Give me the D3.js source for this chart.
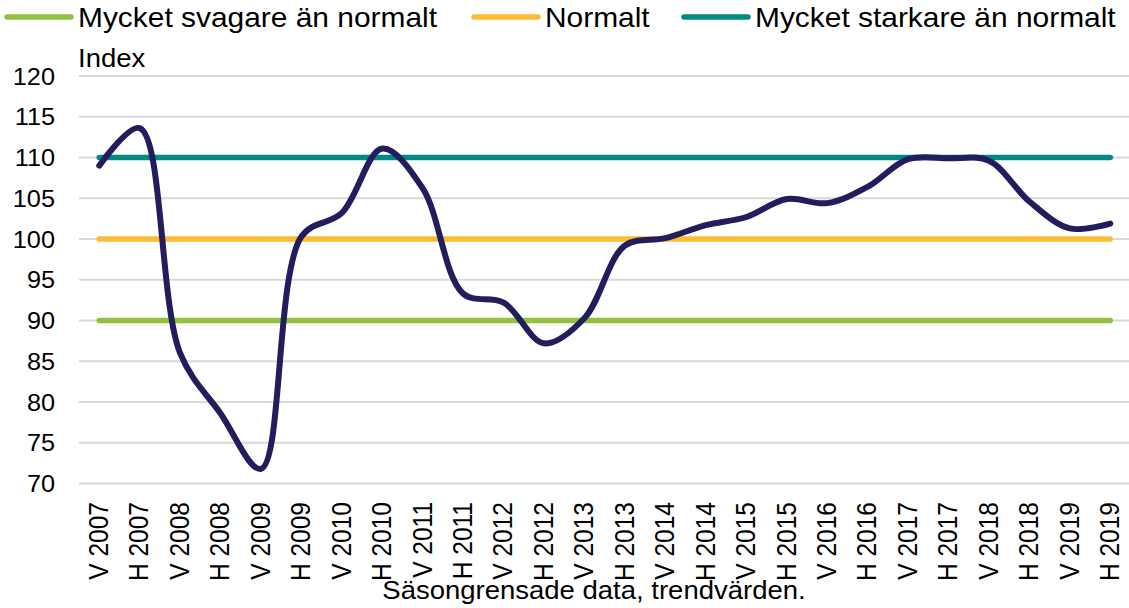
<!DOCTYPE html>
<html>
<head>
<meta charset="utf-8">
<title>Index</title>
<script src="https://cdn.jsdelivr.net/npm/d3@7/dist/d3.min.js"></script>
<style>
	body { margin: 0; background: #fff; }
	text { font-family: "Liberation Sans", Arial, sans-serif; fill: #000; }
</style>
</head>
<body>
<svg id="chart" width="1129" height="608"></svg>
<script>
// halvårsdata, V = vår, H = höst
var periods = ['V 2007', 'H 2007', 'V 2008', 'H 2008', 'V 2009', 'H 2009', 'V 2010', 'H 2010',
	'V 2011', 'H 2011', 'V 2012', 'H 2012', 'V 2013', 'H 2013', 'V 2014', 'H 2014',
	'V 2015', 'H 2015', 'V 2016', 'H 2016', 'V 2017', 'H 2017', 'V 2018', 'H 2018',
	'V 2019', 'H 2019'];
var indexValues = [109.0, 113.6, 86.0, 78.6, 71.8, 100.3, 103.2, 111.1,
	106.2, 93.3, 92.2, 87.2, 90.3, 99.2, 100.1, 101.7,
	102.7, 104.9, 104.4, 106.4, 109.8, 109.9, 109.6, 104.6,
	101.3, 101.9];
var refNames = ['Mycket svagare än normalt', 'Normalt', 'Mycket starkare än normalt'];
var refValues = [90, 100, 110];
var refColors = ['#92c13e', '#fbbb35', '#008a84'];
var yTicks = [70, 75, 80, 85, 90, 95, 100, 105, 110, 115, 120];

var svg = d3.select('#chart');
var sx = 1.1;  // texten i förlagan är lite utdragen på bredden

var x = d3.scaleBand().domain(periods).range([79, 1130.5]);
var y = d3.scaleLinear().domain([70, 120]).range([483.5, 76]);
var cx = d => x(d) + x.bandwidth() / 2;

// skriv text med horisontell sträckning
function label(g, str, px, py, size, anchor) {
	return g.append('text')
		.attr('transform', 'translate(' + px + ',' + py + ') scale(' + sx + ',1)')
		.attr('text-anchor', anchor || 'start')
		.style('font-size', size + 'px')
		.text(str);
}

// rutnät
svg.append('g')
	.selectAll('line')
	.data(yTicks)
	.enter()
	.append('line')
	.attr('x1', 79)
	.attr('x2', 1130.5)
	.attr('y1', d => y(d))
	.attr('y2', d => y(d))
	.attr('stroke', '#d9d9d9')
	.attr('stroke-width', 2.2);

// y-axel
var yAxis = svg.append('g')
	.attr('transform', 'translate(55,0)')
	.call(d3.axisLeft(y).tickValues(yTicks).tickSize(0).tickPadding(0));
yAxis.select('.domain').remove();
yAxis.selectAll('text')
	.attr('x', null).attr('dy', null)
	.attr('transform', 'translate(0,8) scale(' + sx + ',1)')
	.attr('text-anchor', 'end')
	.style('font-size', '23px')
	.style('font-family', null);

// x-axel
var xAxis = svg.append('g')
	.attr('transform', 'translate(0,502)')
	.call(d3.axisBottom(x).tickSize(0).tickPadding(0));
xAxis.select('.domain').remove();
xAxis.selectAll('text')
	.attr('y', null).attr('dy', null)
	.attr('transform', 'scale(' + sx + ',1) rotate(-90) translate(0,8)')
	.attr('text-anchor', 'end')
	.style('font-size', '24.5px')
	.style('font-family', null);

// referenslinjer
svg.append('g')
	.selectAll('line')
	.data(refValues)
	.enter()
	.append('line')
	.attr('x1', cx(periods[0]))
	.attr('x2', cx(periods[periods.length - 1]))
	.attr('y1', d => y(d))
	.attr('y2', d => y(d))
	.attr('stroke', (d, i) => refColors[i])
	.attr('stroke-width', 5.5)
	.attr('stroke-linecap', 'round');

// indexkurva
var line = d3.line()
	.x((d, i) => cx(periods[i]))
	.y(d => y(d))
	.curve(d3.curveCatmullRom);

svg.append('path')
	.datum(indexValues)
	.attr('fill', 'none')
	.attr('stroke', '#221d5c')
	.attr('stroke-width', 6)
	.attr('stroke-linecap', 'round')
	.attr('stroke-linejoin', 'round')
	.attr('d', line);

// förklaring
var legendX = [78, 545, 755];
var leg = svg.append('g');
refNames.forEach((name, i) => {
	leg.append('line')
		.attr('x1', legendX[i] - 71).attr('x2', legendX[i] - 7)
		.attr('y1', 17).attr('y2', 17)
		.attr('stroke', refColors[i])
		.attr('stroke-width', 5.5)
		.attr('stroke-linecap', 'round');
	label(leg, name, legendX[i], 27, 27.2);
});

label(svg, 'Index', 78, 67, 25);
label(svg, 'Säsongrensade data, trendvärden.', 594, 599, 25, 'middle');
</script>
</body>
</html>
